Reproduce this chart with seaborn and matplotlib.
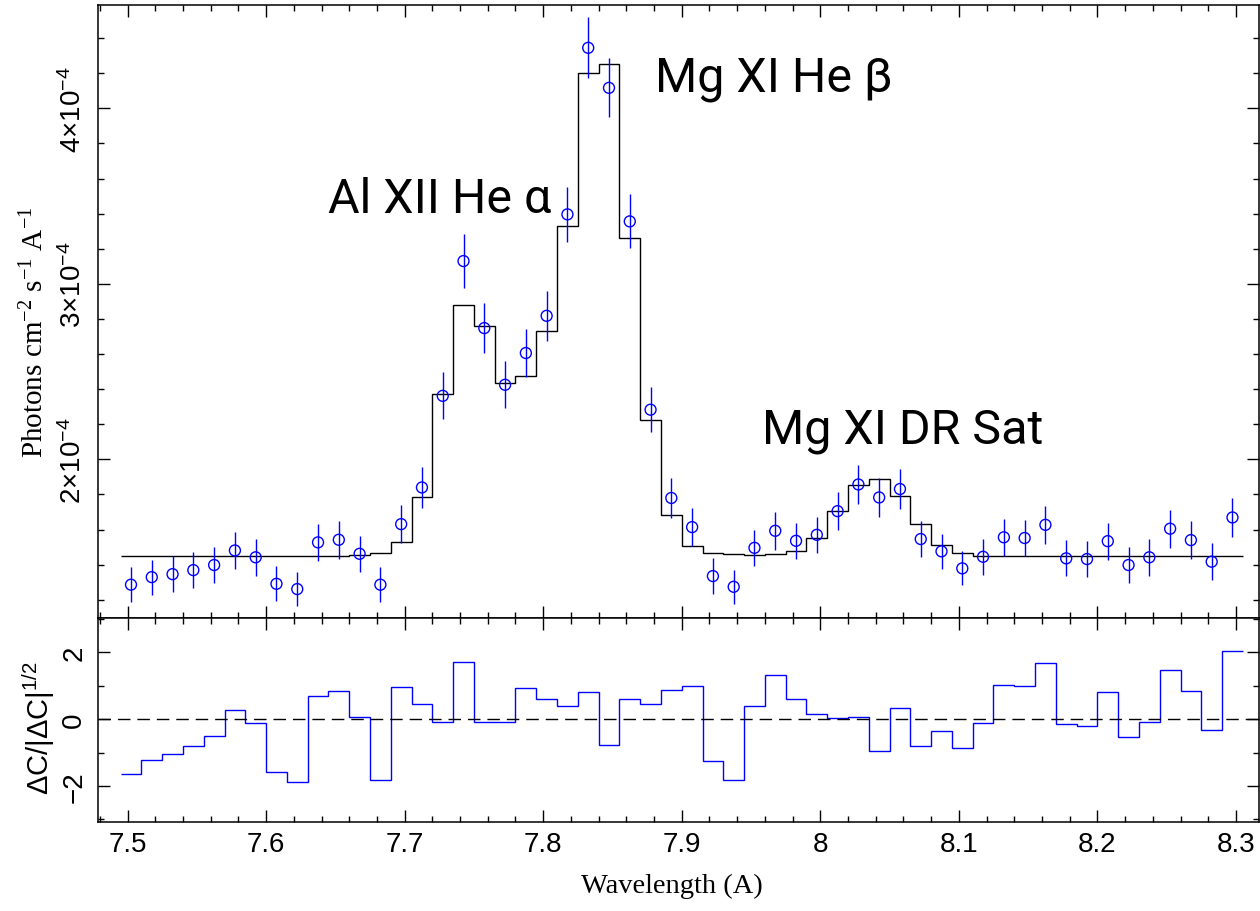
import numpy as np
import matplotlib
matplotlib.use("Agg")
import matplotlib.pyplot as plt
import seaborn as sns
from matplotlib.ticker import MultipleLocator, FuncFormatter

# ---- spectrum data (bin centres in Angstrom, fluxes in units of 1e-4) ----
wavelength = [
    7.5025, 7.5175, 7.5325, 7.5475, 7.5625, 7.5775, 7.5925, 7.6075, 7.6225, 7.6375,
    7.6525, 7.6675, 7.6825, 7.6975, 7.7125, 7.7275, 7.7425, 7.7575, 7.7725, 7.7875,
    7.8025, 7.8175, 7.8325, 7.8475, 7.8625, 7.8775, 7.8925, 7.9075, 7.9225, 7.9375,
    7.9525, 7.9675, 7.9825, 7.9975, 8.0125, 8.0275, 8.0425, 8.0575, 8.0725, 8.0875,
    8.1025, 8.1175, 8.1325, 8.1475, 8.1625, 8.1775, 8.1925, 8.2075, 8.2225, 8.2375,
    8.2525, 8.2675, 8.2825, 8.2975,
]
bin_width = 0.015
flux_scale = 1e-4

flux = [
    1.286, 1.329, 1.346, 1.369, 1.398, 1.481, 1.442, 1.291, 1.261, 1.527,
    1.542, 1.462, 1.286, 1.631, 1.840, 2.362, 3.130, 2.748, 2.425, 2.606,
    2.818, 3.396, 4.345, 4.117, 3.356, 2.283, 1.780, 1.614, 1.335, 1.274,
    1.496, 1.593, 1.536, 1.570, 1.705, 1.857, 1.783, 1.831, 1.546, 1.476,
    1.379, 1.445, 1.556, 1.552, 1.627, 1.436, 1.432, 1.534, 1.398, 1.442,
    1.605, 1.540, 1.417, 1.669,
]
flux_err = [
    0.100, 0.100, 0.103, 0.103, 0.104, 0.105, 0.105, 0.100, 0.097, 0.107,
    0.108, 0.104, 0.099, 0.109, 0.117, 0.133, 0.152, 0.142, 0.134, 0.138,
    0.142, 0.156, 0.174, 0.169, 0.154, 0.128, 0.115, 0.109, 0.101, 0.098,
    0.104, 0.107, 0.103, 0.103, 0.107, 0.112, 0.109, 0.112, 0.104, 0.101,
    0.097, 0.101, 0.106, 0.105, 0.107, 0.103, 0.103, 0.106, 0.101, 0.104,
    0.109, 0.107, 0.104, 0.112,
]
model = [
    1.450, 1.450, 1.450, 1.450, 1.450, 1.450, 1.450, 1.450, 1.450, 1.450,
    1.450, 1.455, 1.464, 1.527, 1.787, 2.372, 2.879, 2.758, 2.435, 2.476,
    2.733, 3.331, 4.203, 4.251, 3.263, 2.226, 1.683, 1.504, 1.466, 1.459,
    1.456, 1.460, 1.476, 1.552, 1.704, 1.854, 1.890, 1.793, 1.631, 1.512,
    1.464, 1.451, 1.450, 1.450, 1.450, 1.450, 1.450, 1.450, 1.450, 1.450,
    1.450, 1.450, 1.450, 1.450,
]
residual = [
    -1.63, -1.21, -1.04, -0.79, -0.50, 0.28, -0.12, -1.59, -1.89, 0.69,
    0.83, 0.06, -1.81, 0.95, 0.46, -0.09, 1.70, -0.10, -0.10, 0.93,
    0.59, 0.39, 0.81, -0.78, 0.60, 0.44, 0.86, 1.00, -1.26, -1.81,
    0.40, 1.31, 0.60, 0.16, 0.02, 0.05, -0.95, 0.32, -0.80, -0.35,
    -0.86, -0.11, 1.02, 0.98, 1.69, -0.16, -0.20, 0.81, -0.53, -0.10,
    1.46, 0.85, -0.33, 2.03,
]

line_labels = ["Al XII He α", "Mg XI He β", "Mg XI DR Sat"]
line_label_x = [7.6445, 7.8805, 7.9582]
line_label_y = [3.407, 4.100, 2.097]

xtick_major = 0.1
xtick_minor = 0.02

# ---- derived arrays ----
wl = np.asarray(wavelength)
edges = np.append(wl - bin_width / 2, wl[-1] + bin_width / 2)
flux_v = np.asarray(flux) * flux_scale
err_v = np.asarray(flux_err) * flux_scale
model_v = np.asarray(model) * flux_scale

BLUE = "#0000ff"

sns.set_theme(style="white")
plt.rcParams.update({
    "font.family": ["Liberation Sans", "DejaVu Sans"],
    "mathtext.default": "regular",
    "text.color": "black",
    "axes.labelcolor": "black",
    "axes.edgecolor": "black",
    "axes.linewidth": 1.1,
    "xtick.direction": "in",
    "ytick.direction": "in",
    "xtick.top": True,
    "xtick.bottom": True,
    "ytick.left": True,
    "ytick.right": True,
    "xtick.color": "black",
    "ytick.color": "black",
    "xtick.major.size": 8.5,
    "ytick.major.size": 8.5,
    "xtick.minor.size": 4.5,
    "ytick.minor.size": 4.5,
    "xtick.major.width": 1.0,
    "ytick.major.width": 1.0,
    "xtick.minor.width": 1.0,
    "ytick.minor.width": 1.0,
    "xtick.minor.visible": True,
    "ytick.minor.visible": True,
})

fig = plt.figure(figsize=(12.6, 9.12), dpi=100)
W, H = 1260.0, 912.0
left, right = 98.3, 1258.8
top_t, top_b = 6.0, 618.5
res_t, res_b = 618.5, 822.7
ax = fig.add_axes([left / W, 1 - top_b / H, (right - left) / W, (top_b - top_t) / H])
axr = fig.add_axes([left / W, 1 - res_b / H, (right - left) / W, (res_b - res_t) / H],
                   sharex=ax)

# ---- spectrum panel ----
ax.stairs(model_v, edges, baseline=None, color="black", linewidth=1.0, zorder=2)
ax.errorbar(wl, flux_v, yerr=err_v, fmt="none", ecolor=BLUE, elinewidth=1.0,
            capsize=0, zorder=3)
sns.scatterplot(x=wl, y=flux_v, ax=ax, marker="o", s=62, linewidth=1.0, zorder=4,
                legend=False)
pts = ax.collections[-1]
pts.set_facecolor("none")
pts.set_edgecolor(BLUE)

for txt, x, y in zip(line_labels, line_label_x, line_label_y):
    ax.text(x, y * flux_scale, txt, fontsize=34.8, family=["Roboto", "DejaVu Sans"],
            ha="left", va="baseline", color="black")

ax.set_xlim(7.4789, 8.3165)
ax.set_ylim(1.099e-4, 4.589e-4)
ax.xaxis.set_major_locator(MultipleLocator(xtick_major))
ax.xaxis.set_minor_locator(MultipleLocator(xtick_minor))
ax.yaxis.set_major_locator(MultipleLocator(1e-4))
ax.yaxis.set_minor_locator(MultipleLocator(0.2e-4))
ax.yaxis.set_major_formatter(
    FuncFormatter(lambda v, p: f"{v / flux_scale:.0f}×10$^{{-4}}$"))
ax.tick_params(axis="x", labelbottom=False)
ax.tick_params(axis="y", labelsize=20, labelrotation=90, pad=8)
for lbl in ax.get_yticklabels():
    lbl.set_va("center")
ax.grid(False)

# ---- residual panel ----
axr.stairs(residual, edges, baseline=None, color=BLUE, linewidth=1.0)
axr.axhline(0, color="black", linewidth=1.0, linestyle=(0, (9, 5)))
axr.set_ylim(-3.07, 3.04)
axr.yaxis.set_major_locator(MultipleLocator(2))
axr.yaxis.set_minor_locator(MultipleLocator(1))
axr.xaxis.set_major_formatter(FuncFormatter(lambda v, p: f"{v:g}"))
axr.tick_params(axis="x", labelsize=20, pad=7)
axr.tick_params(axis="y", labelsize=20, labelrotation=90, pad=8)
for lbl in axr.get_yticklabels():
    lbl.set_va("center")
axr.grid(False)

serif = ["Liberation Serif", "DejaVu Serif"]
sans = ["Liberation Sans", "DejaVu Sans"]
fig.text(43 / W, 1 - 332 / H, "Photons cm$^{-2}$ s$^{-1}$ A$^{-1}$", family=serif,
         fontsize=21, rotation=90, rotation_mode="anchor", ha="center", va="baseline",
         color="black")
fig.text(49 / W, 1 - 728 / H, "ΔC/|ΔC|$^{1/2}$", family=sans,
         fontsize=21, rotation=90, rotation_mode="anchor", ha="center", va="baseline",
         color="black")
fig.text(672 / W, 1 - 893 / H, "Wavelength (A)", family=serif, fontsize=20.5,
         ha="center", va="baseline", color="black")

fig.savefig("out.png", dpi=100, facecolor="white")
